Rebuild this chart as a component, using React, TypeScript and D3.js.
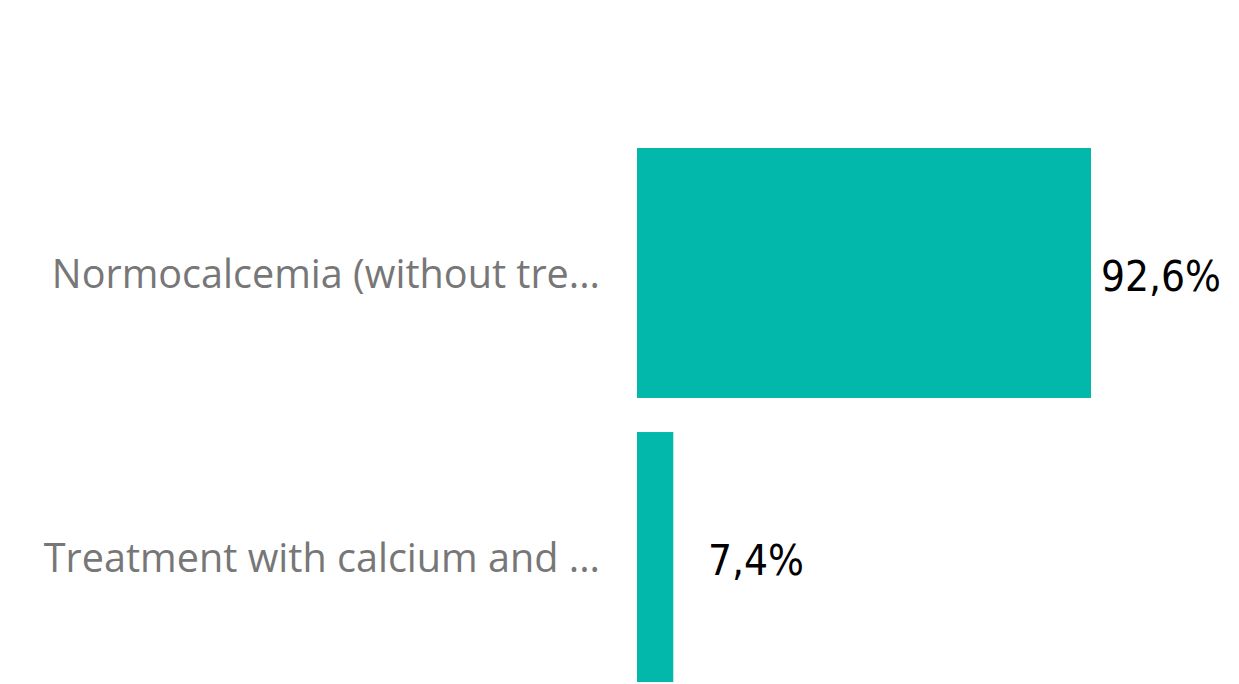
import React from "react";
import * as d3 from "d3";

const categories = ["Normocalcemia (without tre...", "Treatment with calcium and ..."];
const values = [92.6, 7.4];
const valueLabels = ["92,6%", "7,4%"];

const W = 1239;
const H = 684;

export default function App() {
  const x = d3.scaleLinear().domain([0, 92.6]).range([637, 1091]);
  const y = d3
    .scaleBand<string>()
    .domain(categories)
    .range([148, 682])
    .paddingInner(0.12)
    .paddingOuter(0);
  const bw = y.bandwidth();

  return (
    <svg
      width={W}
      height={H}
      style={{ position: "absolute", left: 0, top: 0, background: "#fff" }}
    >
      {categories.map((c, i) => {
        const y0 = y(c) as number;
        const cy = y0 + bw / 2;
        const barEnd = x(values[i]);
        const lx = Math.max(barEnd + 10, x(0) + 71);
        return (
          <g key={c}>
            <rect x={x(0)} y={y0} width={barEnd - x(0)} height={bw} fill="#01B8AA" />
            <text
              x={600}
              y={cy + 15}
              textAnchor="end"
              fill="#777777"
              style={{ fontFamily: "'Open Sans', 'Noto Sans', sans-serif", fontSize: 39.6 }}
            >
              {c}
            </text>
            <text
              x={lx}
              y={cy + 18}
              fill="#000"
              style={{
                fontFamily: "'DejaVu Sans Condensed', 'Liberation Sans Narrow', sans-serif",
                fontSize: 42,
                fontWeight: 500,
              }}
            >
              {valueLabels[i]}
            </text>
          </g>
        );
      })}
    </svg>
  );
}
